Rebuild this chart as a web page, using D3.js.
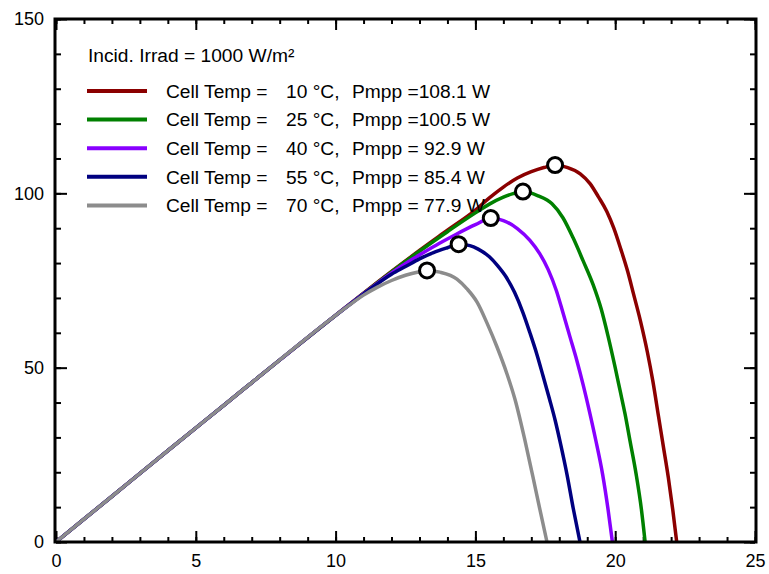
<!DOCTYPE html>
<html>
<head>
<meta charset="utf-8">
<script src="https://cdn.jsdelivr.net/npm/d3@7"></script>
<style>
  html, body { margin: 0; padding: 0; background: #fff; }
  svg { display: block; font-family: "Liberation Sans", Arial, sans-serif; }
</style>
</head>
<body>
<svg id="chart" width="769" height="574"></svg>
<script>
// ---------- data ----------
const xTicksMajor = [0, 5, 10, 15, 20, 25];
const xTicksMinor = d3.range(0, 26, 1);
const yTicksMajor = [0, 50, 100, 150];
const yTicksMinor = d3.range(0, 151, 10);

const titleText = "Incid. Irrad = 1000 W/m\u00B2";
const cellTemps = ["10", "25", "40", "55", "70"];
const pmppLabels = ["Pmpp =108.1 W", "Pmpp =100.5 W", "Pmpp = 92.9 W", "Pmpp = 85.4 W", "Pmpp = 77.9 W"];
const colors = ["#8b0000", "#008000", "#8800ff", "#000080", "#8c8c8c"];

// Maximum power points (V, P)
const mppV = [17.85, 16.70, 15.55, 14.40, 13.27];
const mppP = [108.1, 100.5, 92.9, 85.4, 77.9];

// P-V curves, voltage (V) and power (W)
const v10 = [0, 2, 4, 6, 8, 10, 11, 12, 13, 14, 15, 15.5, 16, 16.5, 17, 17.45, 17.85, 18.3, 18.75, 19.1, 19.4, 19.7, 19.95, 20.2, 20.45, 20.65, 20.9, 21.15, 21.35, 21.55, 21.72, 21.9, 22.06, 22.2];
const p10 = [0, 13.1, 26.2, 39.2, 52.2, 65.0, 71.4, 77.6, 83.6, 89.4, 95.2, 98.7, 101.8, 104.4, 106.2, 107.4, 108.1, 107.4, 105.6, 102.8, 99.0, 94.8, 90.0, 84.0, 77.5, 71.3, 63.5, 54.5, 46.0, 36.0, 27.5, 18.5, 9.2, 0];

const v25 = [0, 2, 4, 6, 8, 10, 11, 12, 13, 14, 15, 15.5, 16, 16.35, 16.7, 17.24, 17.74, 18.13, 18.49, 18.85, 19.21, 19.5, 19.74, 20.0, 20.17, 20.35, 20.53, 20.75, 20.94, 21.07];
const p25 = [0, 13.1, 26.2, 39.2, 52.2, 65.0, 71.3, 77.5, 83.4, 89.0, 94.4, 96.9, 98.9, 99.9, 100.5, 99.3, 97.0, 93.0, 87.3, 80.7, 73.8, 66.8, 59.2, 50.0, 43.6, 36.8, 29.0, 19.4, 9.2, 0];

const v40 = [0, 2, 4, 6, 8, 10, 11, 12, 12.6, 13.1, 13.7, 14.3, 15.0, 15.55, 16.0, 16.5, 16.95, 17.3, 17.6, 17.9, 18.13, 18.38, 18.63, 18.85, 19.08, 19.3, 19.55, 19.74, 19.9];
const p40 = [0, 13.1, 26.2, 39.2, 52.2, 65.0, 71.2, 77.2, 80.4, 82.8, 85.6, 88.2, 91.0, 92.9, 92.2, 89.9, 86.5, 82.7, 78.2, 72.0, 65.8, 58.9, 52.0, 45.2, 37.4, 29.4, 19.4, 9.6, 0];

const v55 = [0, 2, 4, 6, 8, 10, 11, 12, 12.5, 13.0, 13.5, 14.0, 14.4, 14.8, 15.1, 15.5, 15.8, 16.1, 16.4, 16.7, 16.95, 17.2, 17.42, 17.65, 17.85, 18.05, 18.28, 18.5, 18.74];
const p55 = [0, 13.1, 26.2, 39.2, 52.2, 65.0, 71.1, 76.8, 79.0, 81.2, 83.0, 84.4, 85.4, 85.0, 84.0, 81.8, 79.2, 76.0, 71.6, 65.8, 60.0, 53.8, 47.6, 41.0, 35.0, 28.0, 19.2, 9.6, 0];

const v70 = [0, 2, 4, 6, 8, 10, 10.5, 11.0, 11.5, 12.0, 12.5, 13.0, 13.27, 13.73, 14.34, 14.7, 15.06, 15.42, 15.77, 16.13, 16.42, 16.77, 17.06, 17.31, 17.56];
const p70 = [0, 13.1, 26.2, 39.2, 52.2, 65.0, 68.0, 70.8, 73.1, 75.0, 76.5, 77.5, 77.9, 77.4, 75.4, 72.6, 68.8, 62.7, 56.0, 48.2, 40.8, 29.2, 18.6, 9.2, 0];

const seriesV = [v10, v25, v40, v55, v70];
const seriesP = [p10, p25, p40, p55, p70];

// ---------- layout ----------
const svg = d3.select("#chart");
const plotLeft = 56, plotRight = 755, plotTop = 19, plotBottom = 542;

const x = d3.scaleLinear().domain([0, 25]).range([plotLeft, plotRight]);
const y = d3.scaleLinear().domain([0, 150]).range([plotBottom, plotTop]);

const fontSize = 18;
const legendFontSize = 19.2;

// ---------- axes (ticks pointing inward) ----------
function styleAxis(g) {
  g.select(".domain").remove();
  g.selectAll(".tick line").attr("stroke", "#000").attr("stroke-width", 2);
  g.selectAll(".tick text").attr("fill", "#000").style("font-size", fontSize + "px")
    .style("font-family", "'Liberation Sans', Arial, sans-serif");
}

// bottom
svg.append("g").attr("transform", `translate(0,${plotBottom})`)
  .call(d3.axisBottom(x).tickValues(xTicksMinor).tickSize(-5).tickFormat(""))
  .call(styleAxis);
svg.append("g").attr("transform", `translate(0,${plotBottom})`)
  .call(d3.axisBottom(x).tickValues(xTicksMajor).tickSize(-11).tickPadding(12).tickFormat(d3.format("d")))
  .call(styleAxis);
// top
svg.append("g").attr("transform", `translate(0,${plotTop})`)
  .call(d3.axisTop(x).tickValues(xTicksMinor).tickSize(-5).tickFormat(""))
  .call(styleAxis);
svg.append("g").attr("transform", `translate(0,${plotTop})`)
  .call(d3.axisTop(x).tickValues(xTicksMajor).tickSize(-11).tickFormat(""))
  .call(styleAxis);
// left
svg.append("g").attr("transform", `translate(${plotLeft},0)`)
  .call(d3.axisLeft(y).tickValues(yTicksMinor).tickSize(-5).tickFormat(""))
  .call(styleAxis);
svg.append("g").attr("transform", `translate(${plotLeft},0)`)
  .call(d3.axisLeft(y).tickValues(yTicksMajor).tickSize(-11).tickPadding(12).tickFormat(d3.format("d")))
  .call(styleAxis);
// right
svg.append("g").attr("transform", `translate(${plotRight},0)`)
  .call(d3.axisRight(y).tickValues(yTicksMinor).tickSize(-5).tickFormat(""))
  .call(styleAxis);
svg.append("g").attr("transform", `translate(${plotRight},0)`)
  .call(d3.axisRight(y).tickValues(yTicksMajor).tickSize(-11).tickFormat(""))
  .call(styleAxis);

// ---------- curves ----------
const line = d3.line().x(d => x(d[0])).y(d => y(d[1])).curve(d3.curveMonotoneX);

seriesV.forEach((vs, i) => {
  const pts = vs.map((v, j) => [v, seriesP[i][j]]);
  svg.append("path")
    .datum(pts)
    .attr("d", line)
    .attr("fill", "none")
    .attr("stroke", colors[i])
    .attr("stroke-width", 3.5)
    .attr("stroke-linejoin", "round");
});

// ---------- frame ----------
svg.append("rect")
  .attr("x", plotLeft - 1).attr("y", plotTop)
  .attr("width", plotRight - plotLeft + 2).attr("height", plotBottom - plotTop)
  .attr("fill", "none").attr("stroke", "#000").attr("stroke-width", 3);

// ---------- MPP markers ----------
svg.selectAll("circle.mpp")
  .data(mppV.map((v, i) => [v, mppP[i]]))
  .join("circle")
  .attr("class", "mpp")
  .attr("cx", d => x(d[0]))
  .attr("cy", d => y(d[1]))
  .attr("r", 7.5)
  .attr("fill", "#fff")
  .attr("stroke", "#000")
  .attr("stroke-width", 3);

// ---------- legend ----------
const legend = svg.append("g").style("font-size", legendFontSize + "px").attr("fill", "#000");
legend.append("text").attr("x", 88).attr("y", 55).attr("dy", "0.35em").text(titleText);

const rowY0 = 91, rowStep = 28.6;
cellTemps.forEach((t, i) => {
  const cy = rowY0 + i * rowStep;
  legend.append("line")
    .attr("x1", 87).attr("x2", 147).attr("y1", cy).attr("y2", cy)
    .attr("stroke", colors[i]).attr("stroke-width", 4);
  legend.append("text").attr("x", 166).attr("y", cy).attr("dy", "0.35em").text("Cell Temp =");
  legend.append("text").attr("x", 286).attr("y", cy).attr("dy", "0.35em").text(t + " \u00B0C,");
  legend.append("text").attr("x", 352).attr("y", cy).attr("dy", "0.35em").text(pmppLabels[i]);
});
</script>
</body>
</html>
